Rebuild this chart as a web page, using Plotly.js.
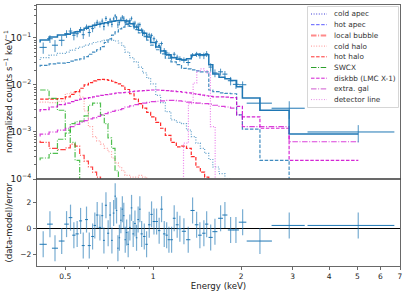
<!DOCTYPE html>
<html><head><meta charset="utf-8">
<script src="https://cdn.plot.ly/plotly-3.0.1.min.js"></script>
<style>html,body{margin:0;padding:0;background:#fff}#chart{width:407px;height:292px}</style>
</head><body><div id="chart"></div>
<script>
// ---- observed spectrum (bin centres, half widths, rate, error, residual) ----
const dataE = [0.420,0.443,0.461,0.486,0.505,0.521,0.535,0.549,0.564,0.576,0.591,0.604,0.620,0.631,0.643,0.657,0.669,0.678,0.689,0.701,0.712,0.722,0.732,0.741,0.749,0.757,0.766,0.775,0.784,0.793,0.802,0.811,0.821,0.832,0.843,0.854,0.866,0.877,0.888,0.900,0.913,0.932,0.949,0.969,0.987,1.006,1.027,1.048,1.068,1.091,1.112,1.132,1.156,1.180,1.208,1.234,1.274,1.318,1.364,1.408,1.445,1.491,1.524,1.573,1.627,1.701,1.760,1.841,1.920,2.024,2.320,2.923,5.036];
const dataEhw = [0.012,0.010,0.011,0.011,0.009,0.0075,0.007,0.007,0.0068,0.0068,0.007,0.0072,0.0068,0.0058,0.0065,0.0065,0.0052,0.005,0.0058,0.0058,0.0052,0.005,0.0048,0.0042,0.004,0.0042,0.0045,0.0045,0.0045,0.0045,0.0045,0.0048,0.0052,0.0055,0.0055,0.0058,0.0058,0.0055,0.0058,0.0062,0.008,0.009,0.0092,0.0095,0.0092,0.010,0.0105,0.0102,0.0108,0.011,0.0102,0.011,0.012,0.013,0.0135,0.0165,0.021,0.0225,0.0225,0.020,0.021,0.020,0.020,0.026,0.032,0.033,0.035,0.040,0.046,0.06,0.23,0.38,1.66];
const dataRate = [0.063,0.096,0.070,0.089,0.123,0.140,0.114,0.123,0.150,0.117,0.170,0.130,0.158,0.187,0.215,0.195,0.228,0.175,0.260,0.201,0.241,0.194,0.254,0.294,0.266,0.189,0.213,0.252,0.277,0.263,0.211,0.226,0.199,0.232,0.260,0.198,0.207,0.170,0.189,0.192,0.145,0.128,0.109,0.116,0.113,0.096,0.083,0.069,0.076,0.054,0.048,0.043,0.039,0.045,0.039,0.036,0.034,0.030,0.043,0.045,0.042,0.042,0.046,0.024,0.018,0.019,0.017,0.0123,0.0103,0.0101,0.0041,0.0032,0.0010];
const dataRateErr = [0.017,0.018,0.020,0.022,0.023,0.024,0.025,0.020,0.021,0.022,0.023,0.024,0.026,0.027,0.028,0.029,0.030,0.030,0.031,0.025,0.026,0.026,0.027,0.027,0.027,0.028,0.028,0.028,0.028,0.028,0.028,0.028,0.028,0.027,0.026,0.025,0.024,0.022,0.021,0.020,0.018,0.017,0.015,0.013,0.012,0.011,0.0094,0.0084,0.0077,0.0068,0.0066,0.0062,0.0057,0.0053,0.0049,0.0047,0.0046,0.0044,0.0047,0.0056,0.0059,0.0066,0.0066,0.0049,0.0034,0.0032,0.0028,0.0025,0.0021,0.0018,0.0013,0.0013,0.0004];
const dataResid = [-1.2,0.35,-1.5,-0.95,0.35,0.85,-0.5,-0.4,0.6,-1.3,0.7,-1.3,-0.6,0.25,1.05,0.1,1.0,-0.9,1.8,-0.35,1.05,-0.9,1.2,2.5,1.4,-1.5,-0.7,0.65,1.5,1.0,-0.85,-0.3,-1.2,0.1,1.6,-0.4,0.4,-0.7,0.7,1.5,-0.4,-0.6,-1.2,0.3,1.1,0.55,0.55,-0.15,1.5,-0.4,-0.5,-0.85,-0.85,0.8,0.3,0.0,-0.2,-0.85,1.4,0.3,-0.5,-0.35,0.35,-0.67,-0.23,0.8,1.05,-0.1,-0.1,0.5,-0.95,0.25,0.25];

// ---- folded model (step values, bin centres) ----
const modelE = [0.41,0.44,0.47,0.50,0.52,0.54,0.56,0.58,0.60,0.62,0.64,0.66,0.68,0.70,0.72,0.74,0.76,0.78,0.80,0.83,0.86,0.89,0.92,0.95,0.98,1.02,1.06,1.10,1.15,1.20,1.25,1.30,1.35,1.40,1.45,1.50,1.55,1.60,1.68,1.76,1.84,1.93,2.02,2.32,2.92,5.04];
const modelTotal = [0.080,0.090,0.105,0.115,0.120,0.128,0.136,0.148,0.160,0.174,0.185,0.195,0.203,0.210,0.218,0.226,0.232,0.235,0.235,0.230,0.200,0.170,0.145,0.126,0.105,0.080,0.064,0.053,0.044,0.038,0.035,0.034,0.036,0.043,0.045,0.044,0.044,0.027,0.017,0.0145,0.0135,0.0125,0.0092,0.0053,0.0029,0.00091];
const coldApec = [0.034,0.038,0.043,0.047,0.050,0.055,0.060,0.064,0.070,0.075,0.080,0.083,0.087,0.090,0.091,0.089,0.086,0.078,0.068,0.050,0.038,0.031,0.024,0.018,0.014,0.0105,0.006,0.0042,0.0027,0.0018,0.0016,0.0015,0.0011,0.0008,0.00058,0.00045,0.00035,0.00026,0.00018,0.00013,0.0001,0.00008,0.00006,0.00004,0.00002,0.00001];
const hotApec = [0.0245,0.026,0.028,0.029,0.030,0.032,0.034,0.036,0.040,0.045,0.050,0.056,0.065,0.080,0.095,0.115,0.135,0.155,0.170,0.195,0.175,0.150,0.128,0.107,0.090,0.070,0.056,0.046,0.037,0.031,0.027,0.0226,0.022,0.021,0.020,0.019,0.019,0.0078,0.0072,0.0068,0.0066,0.0065,0.0023,0.00115,0.00025,0.00005];
const localBubble = [0.00065,0.0006,0.00045,0.00042,0.00046,0.00055,0.0005,0.00032,0.00024,0.00018,0.00014,0.00011,0.00008,0.00006,0.00004,0.00002];
const coldHalo = [0.0044,0.0043,0.0042,0.0045,0.0065,0.0070,0.0072,0.0055,0.0028,0.0013,0.0008,0.00065,0.00055,0.00045,0.00038,0.00028,0.00022,0.00018,0.00015,0.00012,0.00011,0.00011,0.00012,0.00011,0.00009,0.00007,0.00005];
const hotHalo = [0.0050,0.0050,0.0050,0.0051,0.0056,0.0063,0.0072,0.0085,0.0100,0.0112,0.0122,0.0130,0.0132,0.0130,0.0125,0.0120,0.0112,0.0105,0.0095,0.0080,0.0065,0.0050,0.0040,0.0032,0.0026,0.0021,0.0016,0.0012,0.00085,0.0006,0.00048,0.0005,0.00045,0.0003,0.00018,0.00014,0.00011,0.00008,0.00005,0.00003];
const swcxA = [0.0078,0.0078,0.0052,0.0029,0.0011,0.0006,0.00025,0.00005,0.00002];
const swcxB = [0.00025,0.00028,0.00035,0.0007,0.00095,0.0015,0.00165,0.0017,0.0022,0.0037,0.0041,0.0041,0.0023,0.0015,0.00075,0.00045,0.00015,0.00005,0.00002];
const diskbb = [0.0027,0.0030,0.0034,0.0038,0.0041,0.0044,0.0047,0.0050,0.0052,0.0054,0.0056,0.0058,0.0060,0.0062,0.0064,0.0065,0.0067,0.0068,0.0069,0.0070,0.0072,0.0074,0.0075,0.0076,0.0077,0.0078,0.0078,0.0077,0.0076,0.0074,0.0072,0.0070,0.0068,0.0065,0.0063,0.0061,0.0059,0.0057,0.0056,0.0056,0.0055,0.0054,0.0035,0.0021,0.0012,0.00025];
const extraGal = [0.0008,0.0009,0.0010,0.0011,0.0012,0.0013,0.00145,0.0016,0.00175,0.0019,0.0020,0.00215,0.0023,0.00245,0.0026,0.00275,0.0029,0.0030,0.00315,0.0034,0.0036,0.0038,0.00395,0.0041,0.00425,0.0044,0.0045,0.0046,0.0047,0.0047,0.0046,0.0045,0.0043,0.0042,0.0041,0.0040,0.0040,0.0039,0.0037,0.0035,0.0034,0.0032,0.0023,0.0013,0.0013,0.00062];
const detE = [1.27,1.32,1.37,1.41,1.45,1.49,1.53,1.57,1.63,1.70];
const detLine = [0.00001,0.00058,0.004,0.011,0.020,0.022,0.020,0.018,0.0013,0.00001];

const legendNames = ['cold apec','hot apec','local bubble','cold halo','hot halo','SWCX','diskbb (LMC X-1)','extra. gal','detector line'];
const xTicks = [0.5, 1, 2, 3, 4, 5, 6, 7];
const yTitleTop = 'normalized counts s<sup>−1</sup> keV<sup>−1</sup>';
const yTitleBottom = '(data-model)/error';
const xTitle = 'Energy (keV)';

// ---- styles ----
const DOT = '1px,1.6px', DASH = '3.5px,1.6px', DASHDOT = '5.5px,1.6px,1px,1.6px';
const legendStyles = [
  {c:'#3b3bd6', d:DOT, w:1}, {c:'#5a5aff', d:DASH, w:1}, {c:'#ff8a8a', d:DASHDOT, w:2},
  {c:'#ff9090', d:DOT, w:1}, {c:'#ff3030', d:DASH, w:1}, {c:'#2ca02c', d:DASHDOT, w:1},
  {c:'#d21ed2', d:DASH, w:1}, {c:'#cf5acf', d:DASHDOT, w:1}, {c:'#e58ae5', d:DOT, w:1}
];
const BLUE = '#1f77b4';
const FONT = 'DejaVu Sans, sans-serif';

function comp(x, y, color, dash, width) {
  return {x: x, y: y, type: 'scatter', mode: 'lines', xaxis: 'x', yaxis: 'y',
    line: {color: color, dash: dash, width: width || 1.2, shape: 'vh'},
    showlegend: false, hoverinfo: 'skip'};
}

const traces = [
  comp(modelE, coldApec, 'rgba(31,119,180,0.7)', DOT),
  comp(modelE, hotApec, 'rgba(31,119,180,0.85)', DASH),
  comp(modelE.slice(0, localBubble.length), localBubble, 'rgba(255,0,0,0.75)', DASHDOT),
  comp(modelE.slice(0, coldHalo.length), coldHalo, 'rgba(255,70,70,0.5)', DOT),
  comp(modelE.slice(0, hotHalo.length), hotHalo, 'rgba(255,0,0,0.85)', DASH),
  comp(modelE.slice(0, swcxA.length), swcxA, 'rgba(20,170,20,0.75)', DASHDOT),
  comp(modelE.slice(0, swcxB.length), swcxB, 'rgba(20,170,20,0.75)', DASHDOT),
  comp(modelE, diskbb, 'rgba(205,0,205,0.85)', DASH),
  comp(modelE, extraGal, 'rgba(205,0,205,0.75)', DASHDOT),
  comp(detE, detLine, 'rgba(225,60,225,0.65)', DOT),
  comp(modelE, modelTotal, BLUE, 'solid', 1.5),
  {x: dataE, y: dataRate, type: 'scatter', mode: 'markers', xaxis: 'x', yaxis: 'y',
   marker: {size: 1, color: 'rgba(0,0,0,0)'}, showlegend: false, hoverinfo: 'skip',
   error_x: {type: 'data', array: dataEhw, color: BLUE, thickness: 1, width: 0},
   error_y: {type: 'data', array: dataRateErr, color: 'rgba(31,119,180,0.8)', thickness: 1, width: 0}},
  {x: dataE, y: dataResid, type: 'scatter', mode: 'markers', xaxis: 'x2', yaxis: 'y2',
   marker: {size: 1, color: 'rgba(0,0,0,0)'}, showlegend: false, hoverinfo: 'skip',
   error_x: {type: 'data', array: dataEhw, color: BLUE, thickness: 1, width: 0},
   error_y: {type: 'constant', value: 1, color: 'rgba(31,119,180,0.6)', thickness: 1.2, width: 0}}
];

// ---- hand-built legend (compact rows like matplotlib) and axis titles ----
const PLOT_L = 37, PLOT_W = 363, PLOT_T = 5, PLOT_H = 261;
const px2x = function (p) { return (p - PLOT_L) / PLOT_W; };
const px2y = function (p) { return 1 - (p - PLOT_T) / PLOT_H; };
const TFONT = {size: 8.6, family: FONT, color: '#222'};
const shapes = [{type: 'rect', xref: 'paper', yref: 'paper', x0: px2x(307.5), x1: px2x(398.5), y0: px2y(107.5), y1: px2y(6.5),
  fillcolor: 'rgba(255,255,255,0.85)', line: {color: '#cccccc', width: 0.8}, layer: 'above'}];
const annotations = [
  {xref: 'paper', yref: 'paper', x: px2x(8), y: px2y(92), textangle: -90, xanchor: 'center', yanchor: 'middle',
   text: yTitleTop, showarrow: false, font: TFONT},
  {xref: 'paper', yref: 'paper', x: px2x(8), y: px2y(222.5), textangle: -90, xanchor: 'center', yanchor: 'middle',
   text: yTitleBottom, showarrow: false, font: TFONT}
];
legendNames.forEach(function (n, i) {
  const s = legendStyles[i];
  const yc = px2y(14 + 10.7 * i);
  shapes.push({type: 'line', xref: 'paper', yref: 'paper', x0: px2x(311), x1: px2x(327), y0: yc, y1: yc,
    line: {color: s.c, dash: s.d, width: s.w}, layer: 'above'});
  annotations.push({xref: 'paper', yref: 'paper', x: px2x(331.5), y: yc, xanchor: 'left', yanchor: 'middle',
    text: n, showarrow: false, font: {size: 7.3, family: FONT, color: '#333'}});
});

const AX = {showline: true, mirror: true, linecolor: '#444', linewidth: 0.8, showgrid: false, zeroline: false,
  ticks: 'outside', ticklen: 3.5, tickwidth: 0.8, tickcolor: '#444', tickfont: {size: 7.5, color: '#222', family: FONT}};
const xRange = [Math.log10(0.4), Math.log10(7)];

const layout = {
  width: 407, height: 292,
  margin: {l: PLOT_L, r: 407 - PLOT_L - PLOT_W, t: PLOT_T, b: 292 - PLOT_T - PLOT_H},
  paper_bgcolor: '#fff', plot_bgcolor: '#fff',
  font: {family: FONT, color: '#222', size: 8},
  showlegend: false,
  shapes: shapes, annotations: annotations,
  xaxis: Object.assign({}, AX, {type: 'log', range: xRange, domain: [0, 1], anchor: 'y', matches: 'x2',
    tickvals: xTicks, showticklabels: false, ticks: ''}),
  xaxis2: Object.assign({}, AX, {type: 'log', range: xRange, domain: [0, 1], anchor: 'y2',
    tickmode: 'array', tickvals: xTicks, ticktext: xTicks.map(String),
    minor: {tickmode: 'array', tickvals: [0.6, 0.7, 0.8, 0.9], ticklen: 2, tickcolor: '#444', ticks: 'outside'},
    title: {text: xTitle, font: TFONT, standoff: 1}}),
  yaxis: Object.assign({}, AX, {type: 'log', range: [-4, -0.3], domain: [0.3333, 1], anchor: 'x',
    dtick: 1, exponentformat: 'power', tickfont: {size: 7.2, color: '#222', family: FONT},
    minor: {dtick: 'D1', ticklen: 2, tickcolor: '#444', ticks: 'outside'}}),
  yaxis2: Object.assign({}, AX, {range: [-2.87, 3.82], domain: [0, 0.3333], anchor: 'x2',
    tickvals: [-2, 0, 2], zeroline: true, zerolinecolor: '#000', zerolinewidth: 1.2})
};

Plotly.newPlot('chart', traces, layout, {staticPlot: true, displayModeBar: false});
</script>
</body></html>
